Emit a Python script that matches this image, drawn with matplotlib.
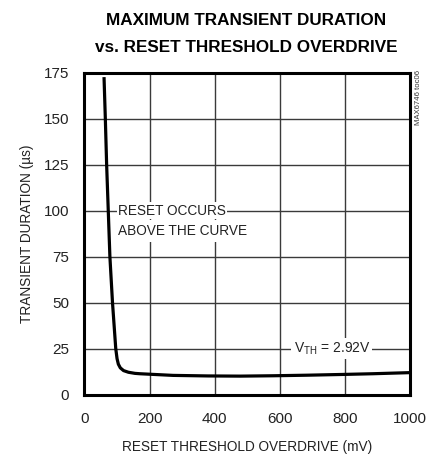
import matplotlib.pyplot as plt

plt.rcParams['font.family'] = ['Liberation Sans', 'DejaVu Sans']

# Кривая: максимальная длительность импульса (мкс) от превышения порога (мВ)
overdrive_mv = [60, 64, 68, 73, 78, 86, 96, 100, 104, 110, 120, 135, 155, 170,
                272, 380, 478, 580, 683, 790, 886, 1000]
duration_us = [172.5, 150, 125, 100, 75, 50, 25, 19.5, 16.5, 14.5, 13.0, 12.1, 11.5, 11.3,
               10.4, 10.1, 10.0, 10.2, 10.5, 10.9, 11.3, 11.9]

x_ticks = [0, 200, 400, 600, 800, 1000]
y_ticks = [0, 25, 50, 75, 100, 125, 150, 175]

fig = plt.figure(figsize=(4.36, 4.54), dpi=100)
ax = fig.add_axes([0.1938, 0.131, 0.7466, 0.7093])

ax.plot(overdrive_mv, duration_us, color='black', linewidth=2.3, zorder=3,
        solid_joinstyle='round', solid_capstyle='butt')

ax.set_xlim(0, 1000)
ax.set_ylim(0, 175)
ax.set_xticks(x_ticks)
ax.set_yticks(y_ticks)
ax.grid(True, color='#3a3a3a', linewidth=1.0)
ax.tick_params(length=0, labelsize=11, colors='#222222')
ax.tick_params(axis='x', pad=12.5)
ax.tick_params(axis='y', pad=11)
for s in ax.spines.values():
    s.set_linewidth(2.2)

ax.set_xlabel('RESET THRESHOLD OVERDRIVE (mV)', fontsize=9.8, labelpad=10, color='#222222')
ax.set_ylabel('TRANSIENT DURATION (\u00b5s)', fontsize=9.8, labelpad=7, color='#222222')

# подписи с белым фоном поверх сетки
ax.text(103, 89, 'ABOVE THE CURVE', fontsize=9.8, va='center', ha='left', zorder=4,
        color='#222222', bbox=dict(facecolor='white', edgecolor='none', pad=3.0))
ax.text(103, 100, 'RESET OCCURS', fontsize=9.8, va='center', ha='left', zorder=4,
        color='#222222', bbox=dict(facecolor='white', edgecolor='none', pad=1.0))
ax.text(760, 25, r'V$_{\mathregular{TH}}$ = 2.92V', fontsize=10, va='center', ha='center',
        zorder=4, color='#222222', bbox=dict(facecolor='white', edgecolor='none', pad=1.5))

fig.text(0.565, 0.955, 'MAXIMUM TRANSIENT DURATION', fontsize=12.3, fontweight='bold',
         ha='center', va='center')
fig.text(0.565, 0.896, 'vs. RESET THRESHOLD OVERDRIVE', fontsize=12.3, fontweight='bold',
         ha='center', va='center')
fig.text(0.961, 0.846, 'MAX6746 toc06', fontsize=5.6, rotation=90, ha='center', va='top',
         color='#333333')

fig.savefig('out.png')
